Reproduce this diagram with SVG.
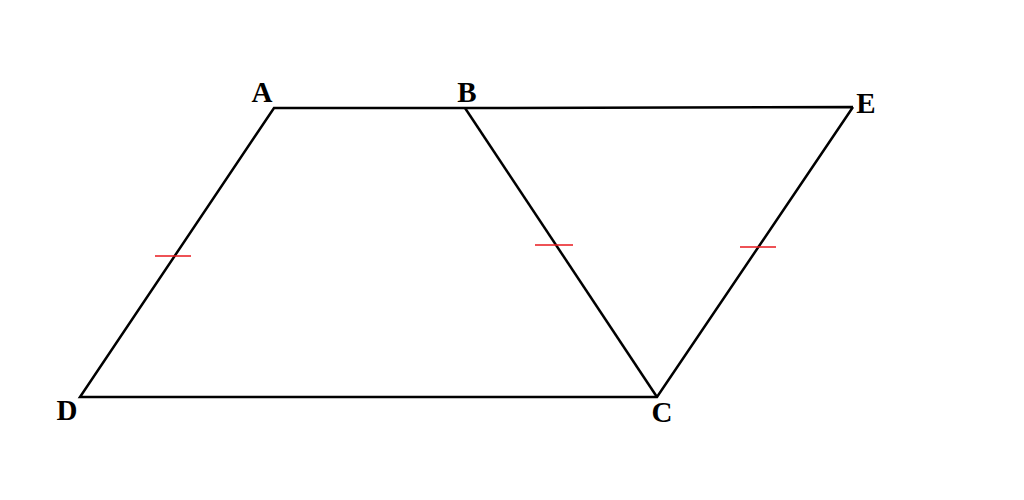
<svg xmlns="http://www.w3.org/2000/svg" width="1024" height="500" viewBox="0 0 1024 500">
<style>
.e{stroke:#000;stroke-width:2.5;fill:none;stroke-linejoin:miter}
.t{stroke:#e8191e;stroke-width:1.5}
.l{font-family:"Liberation Serif","Times New Roman",serif;font-weight:bold;font-size:29px;fill:#000;text-anchor:middle}
</style>
<rect width="1024" height="500" fill="#fff"/>
<g id="connectors">
<polyline class="e" points="853,107 465,108 274,108 80,397 657,397 853,107"/>
<line class="e" x1="465" y1="108" x2="657" y2="397"/>
<line class="t" x1="155" y1="256" x2="191" y2="256"/>
<line class="t" x1="535" y1="245" x2="573" y2="245"/>
<line class="t" x1="740" y1="247" x2="776" y2="247"/>
</g>
<g id="A"><text class="l" x="262" y="102">A</text></g>
<g id="B"><text class="l" x="467" y="102">B</text></g>
<g id="E"><text class="l" x="866" y="113">E</text></g>
<g id="D"><text class="l" x="67" y="420">D</text></g>
<g id="C"><text class="l" x="662" y="422">C</text></g>
</svg>
